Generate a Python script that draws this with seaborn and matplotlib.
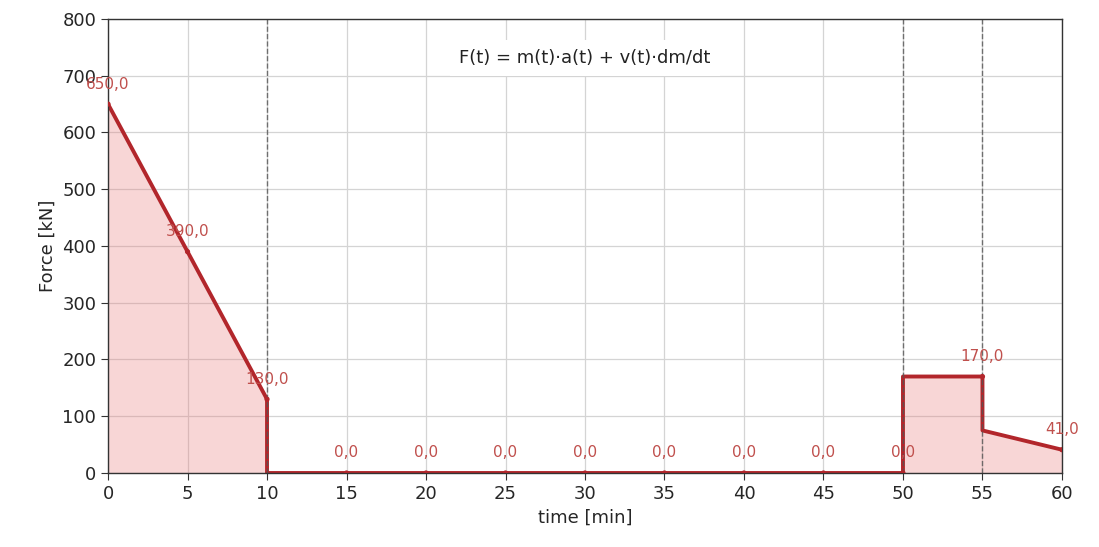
import matplotlib
matplotlib.use("Agg")
import matplotlib.pyplot as plt
import seaborn as sns
import pandas as pd

# Thrust profile: breakpoints (vertical jumps repeat the time value)
time_min = [0, 5, 10, 10, 50, 50, 55, 55, 60]
force_kn = [650, 390, 130, 0, 0, 170, 170, 75, 41]

# Sampled points annotated along the curve
label_times = [0, 5, 10, 15, 20, 25, 30, 35, 40, 45, 50, 55, 60]
label_values = [650, 390, 130, 0, 0, 0, 0, 0, 0, 0, 0, 170, 41]

# Phase boundaries
phase_marks = [10, 50, 55]

x_ticks = [0, 5, 10, 15, 20, 25, 30, 35, 40, 45, 50, 55, 60]
y_ticks = [0, 100, 200, 300, 400, 500, 600, 700, 800]

sns.set_style("ticks")
plt.rcParams["font.family"] = ["DejaVu Sans"]

line_color = "#b2262b"
label_color = "#c0504d"

fig = plt.figure(figsize=(10.99, 5.47), dpi=100)
ax = fig.add_axes([0.0983, 0.1353, 0.868, 0.830])

profile = pd.DataFrame({"time": time_min, "force": force_kn})
ax.fill_between(profile["time"], profile["force"], 0, color="#e8787a", alpha=0.3, lw=0)
sns.lineplot(data=profile, x="time", y="force", ax=ax, color=line_color, lw=2.8,
             sort=False, estimator=None)

pts = pd.DataFrame({"time": label_times, "force": label_values})
sns.scatterplot(data=pts, x="time", y="force", ax=ax, color=line_color, s=14,
                edgecolor="none", zorder=5)
for t, v in zip(label_times, label_values):
    ax.annotate(f"{v:.1f}".replace(".", ","), (t, v), xytext=(0, 9),
                textcoords="offset points", ha="center", va="bottom",
                fontsize=11, color=label_color)

for t in phase_marks:
    ax.axvline(t, color="#555555", ls="--", lw=1.0, alpha=0.8)

ax.text(0.5, 0.915, "F(t) = m(t)·a(t) + v(t)·dm/dt", transform=ax.transAxes,
        ha="center", va="center", fontsize=13, color="#222222",
        bbox=dict(boxstyle="square,pad=0.5", facecolor="white", edgecolor="none"),
        zorder=6)

ax.set_xlim(0, 60)
ax.set_ylim(0, 800)
ax.set_xticks(x_ticks)
ax.set_yticks(y_ticks)
ax.grid(True, color="#d4d4d4", lw=0.9)
ax.set_axisbelow(True)
ax.tick_params(labelsize=13, length=5, color="#333333")
ax.set_xlabel("time [min]", fontsize=13)
ax.set_ylabel("Force [kN]", fontsize=13)
for s in ax.spines.values():
    s.set_color("#333333")
    s.set_linewidth(1.0)

fig.savefig("out.png", dpi=100)
